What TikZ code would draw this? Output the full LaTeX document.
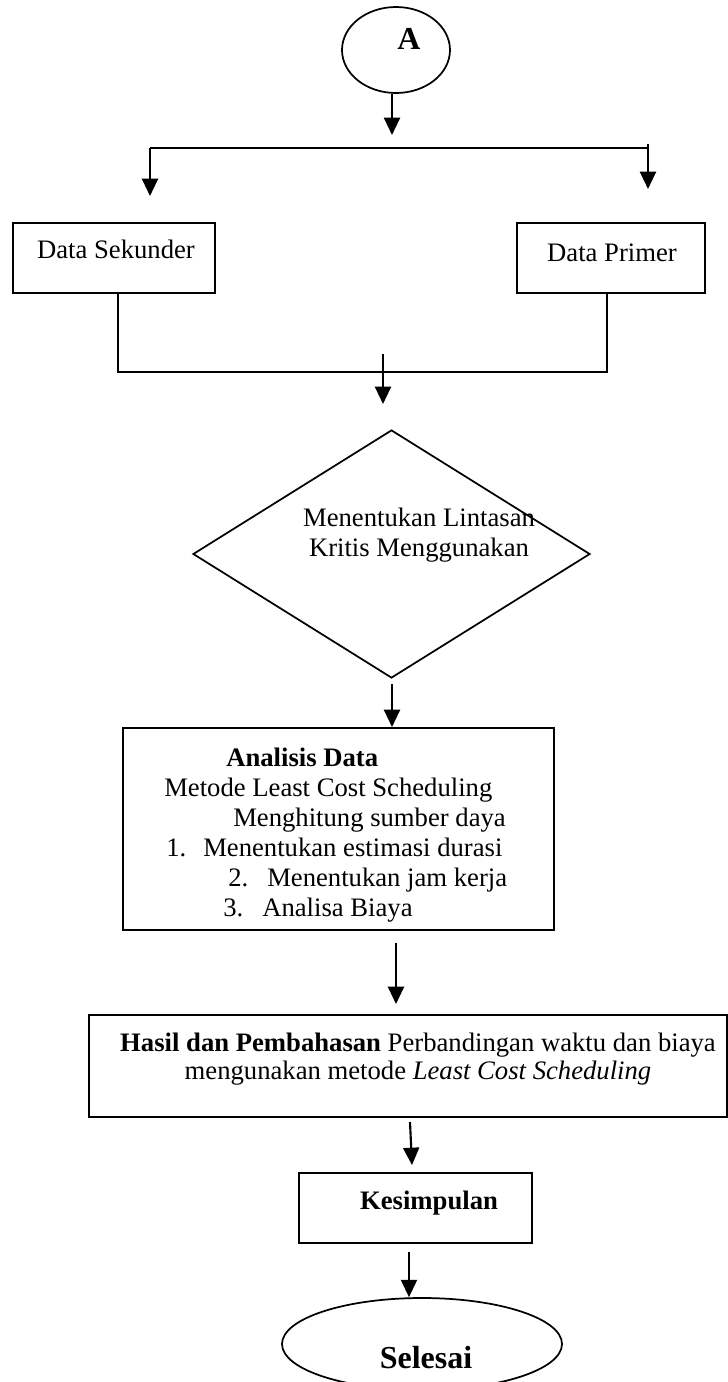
\documentclass[tikz,border=0pt]{standalone}
\usepackage{fontspec}
\setmainfont{Liberation Serif}
\usetikzlibrary{shapes.geometric,arrows.meta}

\begin{document}
\begin{tikzpicture}[x=0.75pt,y=0.75pt,yscale=-1,xscale=1,
  garis/.style={line width=1.3pt},
  kotak/.style={draw,line width=1.5pt,inner sep=0pt},
  teks/.style={inner sep=0pt,font=\fontsize{20}{22.5}\selectfont},
  panah/.style={line width=1.6pt,-{Triangle[length=13pt,width=12pt]}}]

\useasboundingbox (0,0) rectangle (728,1382);

% mulai
\node [draw,ellipse,garis,minimum width=81pt,minimum height=64.5pt] (A) at (396,50) {};
\node [teks,font=\fontsize{24}{26}\selectfont\bfseries] (Atxt) at (409,39) {A};
\coordinate (aEnd) at (392,135);
\draw [panah] (A.south -| aEnd) -- (aEnd);

% cabang data
\coordinate (cabL) at (150,148);
\coordinate (cabR) at (648,148);
\coordinate (cabRtop) at (648,144);
\coordinate (sekIn) at (150,196);
\coordinate (primIn) at (648,189);
\draw [garis] (cabL) -- (cabR);
\draw [panah] (cabL) -- (sekIn);
\draw [panah] (cabRtop) -- (primIn);

\node [kotak,minimum width=151.5pt,minimum height=52.5pt] (sek) at (114,258) {};
\node [teks] (sektxt) at (116,249) {Data Sekunder};
\node [kotak,minimum width=141pt,minimum height=52.5pt] (prim) at (611,258) {};
\node [teks] (primtxt) at (612,253) {Data Primer};

% gabung
\coordinate (gabL) at (118,372);
\coordinate (gabR) at (607,372);
\draw [garis] (sek.south -| gabL) -- (gabL) -- (gabR) -- (prim.south -| gabR);
\coordinate (gabTop) at (383,354);
\coordinate (gabEnd) at (383,404);
\draw [panah] (gabTop) -- (gabEnd);

% lintasan kritis
\node [draw,diamond,garis,minimum width=297.75pt,minimum height=186pt,inner sep=0pt] (kritis) at (391.5,554) {};
\node [teks,align=center] (kritistxt) at (419,535) {Menentukan Lintasan\\Kritis Menggunakan};

% analisis data
\node [kotak,minimum width=323.25pt,minimum height=151.5pt] (anls) at (338.5,829) {};
\node [teks,align=left,anchor=north west] (anlstxt) at (164,748) {\hspace*{46.5pt}\textbf{Analisis Data}\\
  Metode Least Cost Scheduling\\
  \hspace*{51.75pt}Menghitung sumber daya\\
  \hspace*{1.5pt}\makebox[27.75pt][l]{1.}Menentukan estimasi durasi\\
  \hspace*{48pt}\makebox[29.25pt][l]{2.}Menentukan jam kerja\\
  \hspace*{44.25pt}\makebox[29.25pt][l]{3.}Analisa Biaya};
\coordinate (krStart) at (392,684);
\draw [panah] (krStart) -- (anls.north -| krStart);
\coordinate (anStart) at (396,943);
\coordinate (anEnd) at (396,1004);
\draw [panah] (anStart) -- (anEnd);

% hasil
\node [kotak,minimum width=478.5pt,minimum height=76.5pt] (hasil) at (408,1066) {};
\node [teks,align=center,font=\fontsize{20}{21}\selectfont] (hasiltxt) at (418,1059) {\textbf{Hasil dan Pembahasan} Perbandingan waktu dan biaya\\
  mengunakan metode \textit{Least Cost Scheduling}};
\coordinate (hsStart) at (410,1122);
\coordinate (hsEnd) at (412,1165);
\draw [panah] (hsStart) -- (hsEnd);

% kesimpulan
\node [kotak,minimum width=174.75pt,minimum height=52.5pt] (kesim) at (415.5,1208) {};
\node [teks,font=\fontsize{20}{22.5}\selectfont\bfseries] (kesimtxt) at (429,1203) {Kesimpulan};

% selesai
\node [draw,ellipse,garis,minimum width=210pt,minimum height=69pt] (selesai) at (422,1344) {};
\node [teks,font=\fontsize{24}{26}\selectfont\bfseries] (selesaitxt) at (426,1358) {Selesai};
\coordinate (ksStart) at (409,1252);
\draw [panah] (ksStart) -- (selesai.north -| ksStart);

\end{tikzpicture}
\end{document}
